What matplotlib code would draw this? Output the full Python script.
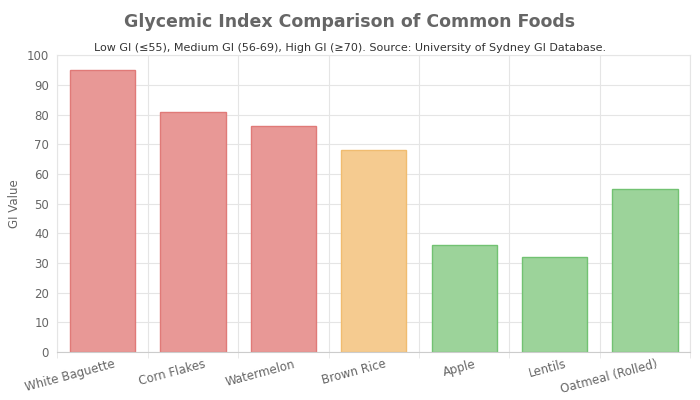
import matplotlib.pyplot as plt
import numpy as np

foods = ['White Baguette', 'Corn Flakes', 'Watermelon', 'Brown Rice',
         'Apple', 'Lentils', 'Oatmeal (Rolled)']
gi_values = [95, 81, 76, 68, 36, 32, 55]
gi_class = ['high', 'high', 'high', 'medium', 'low', 'low', 'low']

fills = {'high': '#e89896', 'medium': '#f5cb90', 'low': '#9cd39a'}
edges = {'high': '#e07a78', 'medium': '#f0bc70', 'low': '#72c272'}

fig = plt.figure(figsize=(7, 4), dpi=100)
ax = fig.add_axes([0.082, 0.12, 0.904, 0.742])

x = np.arange(len(foods))
ax.bar(x, gi_values, width=0.72,
       color=[fills[c] for c in gi_class],
       edgecolor=[edges[c] for c in gi_class], linewidth=1, zorder=2)

ax.set_xlim(-0.5, len(foods) - 0.5)
ax.set_ylim(0, 100)
ax.set_yticks(range(0, 101, 10))
ax.set_xticks(x + 0.15)
ax.set_xticklabels(foods, rotation=15, ha='right', fontsize=8.5, color='#666666')
ax.tick_params(axis='y', labelsize=8.5, colors='#666666', length=0, pad=6)
ax.tick_params(axis='x', length=0, pad=4)
ax.set_xticks(np.arange(-0.5, len(foods)), minor=True)
ax.tick_params(axis='x', which='minor', length=4, color='#e5e5e5')
ax.grid(True, which='minor', axis='x', color='#e5e5e5', linewidth=0.8)
ax.grid(True, which='major', axis='y', color='#e5e5e5', linewidth=0.8)
ax.set_axisbelow(True)
for s in ax.spines.values():
    s.set_color('#e5e5e5')
ax.spines['bottom'].set_color('#cccccc')
ax.set_ylabel('GI Value', fontsize=8.5, color='#666666')

fig.text(0.5, 0.945, 'Glycemic Index Comparison of Common Foods',
         ha='center', va='center', fontsize=12.5, fontweight='bold', color='#666666')
fig.text(0.5, 0.88, 'Low GI (≤55), Medium GI (56-69), High GI (≥70). Source: University of Sydney GI Database.',
         ha='center', va='center', fontsize=8, color='#333333')

fig.savefig('out.png', dpi=100)
